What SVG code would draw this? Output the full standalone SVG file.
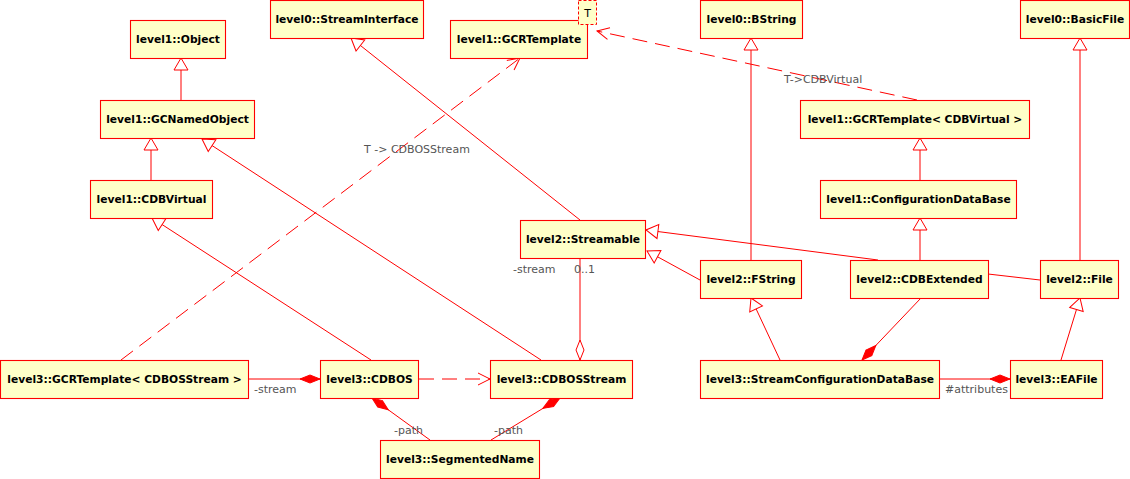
<svg xmlns="http://www.w3.org/2000/svg" width="1130" height="479" viewBox="0 0 1130 479">
<style>
.n rect{fill:#ffffc8;stroke:#ff0000;stroke-width:1.1}
.n text{font-family:"DejaVu Sans",sans-serif;font-size:10.7px;font-weight:bold;fill:#000;text-anchor:middle}
.c path{fill:none;stroke:#ff0000;stroke-width:1}
.c path.d{stroke-dasharray:15,8}
.g{marker-end:url(#gen)}
.fd{marker-end:url(#fdia)}
.hd{marker-end:url(#hdia)}
.oa{marker-end:url(#open)}
.lbl{font-family:"DejaVu Sans",sans-serif;font-size:11px;fill:#555}
.t rect{fill:#ffffc8;stroke:#ff0000;stroke-width:1;stroke-dasharray:3,2}
.t text{font-family:"DejaVu Sans",sans-serif;font-size:11px;fill:#000;text-anchor:middle}
</style>
<defs>
<marker id="gen" markerUnits="userSpaceOnUse" markerWidth="14" markerHeight="16" refX="12" refY="7" orient="auto" overflow="visible">
<path d="M0,0 L12,7 L0,14 Z" fill="#fff" stroke="#ff0000" stroke-width="1"/>
</marker>
<marker id="fdia" markerUnits="userSpaceOnUse" markerWidth="20" markerHeight="8" refX="20" refY="4" orient="auto" overflow="visible">
<path d="M0,4 L10,0 L20,4 L10,8 Z" fill="#ff0000" stroke="#ff0000" stroke-width="1"/>
</marker>
<marker id="hdia" markerUnits="userSpaceOnUse" markerWidth="20" markerHeight="8" refX="20" refY="4" orient="auto" overflow="visible">
<path d="M0,4 L10,0 L20,4 L10,8 Z" fill="#fff" stroke="#ff0000" stroke-width="1"/>
</marker>
<marker id="open" markerUnits="userSpaceOnUse" markerWidth="14" markerHeight="14" refX="12" refY="6" orient="auto" overflow="visible">
<path d="M0,0 L12,6 L0,12" fill="none" stroke="#ff0000" stroke-width="1"/>
</marker>
</defs>
<rect width="1130" height="479" fill="#fff"/>
<g class="c" id="connectors">
<path class="g" d="M181,100 L181,58"/>
<path class="g" d="M151,180 L151,138"/>
<path class="g" d="M541,360 L202,139"/>
<path class="g" d="M371,360 L152,218"/>
<path class="g" d="M580,220 L351,38"/>
<path class="d oa" d="M121,360 L520,58"/>
<path class="d oa" d="M917,100 L597,31"/>
<path class="g" d="M751,260 L751,38"/>
<path class="g" d="M1080,260 L1080,38"/>
<path class="g" d="M920,180 L920,138"/>
<path class="g" d="M920,260 L920,218"/>
<path class="g" d="M878,260 L646,230"/>
<path class="g" d="M700,280 L647,251"/>
<path d="M988,274 L1040,280"/>
<path class="g" d="M780,360 L751,298"/>
<path class="fd" d="M921,298 L862,360"/>
<path class="g" d="M1061,360 L1080,298"/>
<path class="fd" d="M940,379 L1010,379"/>
<path class="hd" d="M580,258 L580,360"/>
<path class="fd" d="M248,379 L320,379"/>
<path class="d oa" d="M419,379 L490,379"/>
<path class="fd" d="M430,440 L372,398"/>
<path class="fd" d="M491,440 L560,398"/>
<text class="lbl" x="364" y="153">T -&gt; CDBOSStream</text>
<text class="lbl" x="784" y="83">T-&gt;CDBVirtual</text>
<text class="lbl" x="513" y="273">-stream</text>
<text class="lbl" x="574" y="273">0..1</text>
<text class="lbl" x="254" y="393">-stream</text>
<text class="lbl" x="394" y="434">-path</text>
<text class="lbl" x="494" y="434">-path</text>
<text class="lbl" x="945" y="393">#attributes</text>
</g>
<g class="n" id="level1_Object"><rect x="130.5" y="20.5" width="95" height="38"/><text x="178" y="43">level1::Object</text></g>
<g class="n" id="level0_StreamInterface"><rect x="270.5" y="0.5" width="153" height="38"/><text x="347" y="23">level0::StreamInterface</text></g>
<g class="n" id="level1_GCRTemplate"><rect x="450.5" y="20.5" width="137" height="38"/><text x="519" y="43">level1::GCRTemplate</text></g>
<g class="t" id="level1_GCRTemplate_T"><rect x="578.5" y="0.5" width="18" height="24"/><text x="587.5" y="17">T</text></g>
<g class="n" id="level0_BString"><rect x="700.5" y="0.5" width="102" height="38"/><text x="751.5" y="23">level0::BString</text></g>
<g class="n" id="level0_BasicFile"><rect x="1020.5" y="0.5" width="109" height="38"/><text x="1075" y="23">level0::BasicFile</text></g>
<g class="n" id="level1_GCNamedObject"><rect x="100.5" y="100.5" width="154" height="38"/><text x="177.5" y="123">level1::GCNamedObject</text></g>
<g class="n" id="level1_GCRTemplate_CDBVirtual"><rect x="800.5" y="100.5" width="229" height="38"/><text x="915" y="123">level1::GCRTemplate&lt; CDBVirtual &gt;</text></g>
<g class="n" id="level1_CDBVirtual"><rect x="90.5" y="180.5" width="122" height="38"/><text x="151.5" y="203">level1::CDBVirtual</text></g>
<g class="n" id="level1_ConfigurationDataBase"><rect x="820.5" y="180.5" width="196" height="38"/><text x="918.5" y="203">level1::ConfigurationDataBase</text></g>
<g class="n" id="level2_Streamable"><rect x="520.5" y="220.5" width="125" height="38"/><text x="583" y="243">level2::Streamable</text></g>
<g class="n" id="level2_FString"><rect x="700.5" y="260.5" width="101" height="38"/><text x="751" y="283">level2::FString</text></g>
<g class="n" id="level2_CDBExtended"><rect x="850.5" y="260.5" width="138" height="38"/><text x="919.5" y="283">level2::CDBExtended</text></g>
<g class="n" id="level2_File"><rect x="1040.5" y="260.5" width="78" height="38"/><text x="1079.5" y="283">level2::File</text></g>
<g class="n" id="level3_GCRTemplate_CDBOSStream"><rect x="0.5" y="360.5" width="248" height="38"/><text x="124.5" y="383">level3::GCRTemplate&lt; CDBOSStream &gt;</text></g>
<g class="n" id="level3_CDBOS"><rect x="320.5" y="360.5" width="98" height="38"/><text x="369.5" y="383">level3::CDBOS</text></g>
<g class="n" id="level3_CDBOSStream"><rect x="490.5" y="360.5" width="142" height="38"/><text x="561.5" y="383">level3::CDBOSStream</text></g>
<g class="n" id="level3_StreamConfigurationDataBase"><rect x="700.5" y="360.5" width="239" height="38"/><text x="820" y="383">level3::StreamConfigurationDataBase</text></g>
<g class="n" id="level3_EAFile"><rect x="1010.5" y="360.5" width="92" height="38"/><text x="1056.5" y="383">level3::EAFile</text></g>
<g class="n" id="level3_SegmentedName"><rect x="380.5" y="440.5" width="159" height="38"/><text x="460" y="463">level3::SegmentedName</text></g>
</svg>
